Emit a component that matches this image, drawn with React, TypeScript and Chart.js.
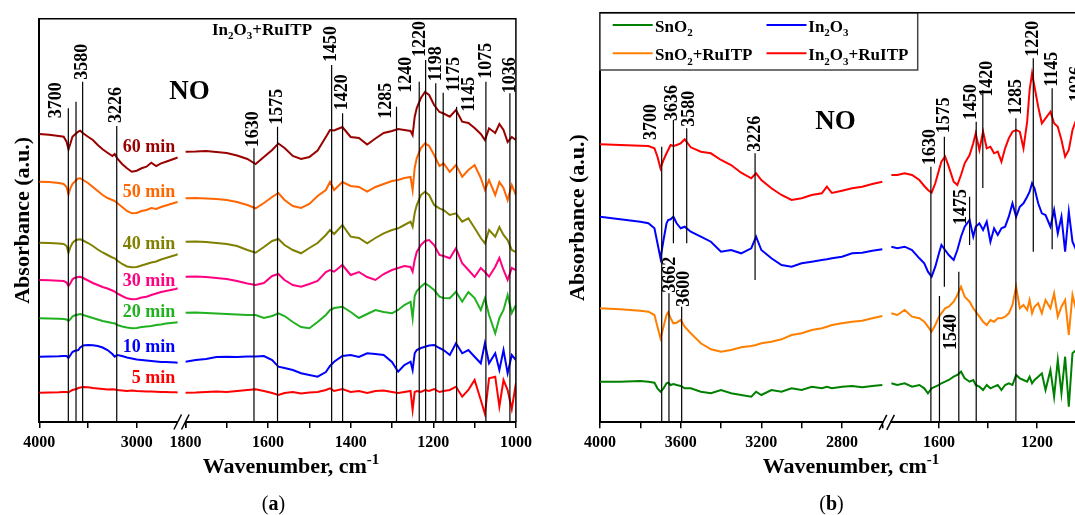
import React, { useEffect, useRef } from 'react';
import { Chart, registerables } from 'chart.js';

Chart.register(...registerables);

const FONT = "'Liberation Serif', 'Times New Roman', serif";

// ================= Panel (a): In2O3+RuITP under NO, time series =================
const A_TITLE = 'In₂O₃+RuITP';
const A_GAS = 'NO';
const A_WN_HI = [4000, 3900, 3800, 3750, 3720, 3700, 3680, 3660, 3640, 3620, 3600, 3580, 3550, 3500, 3450, 3400, 3350, 3300, 3250, 3226, 3200, 3150, 3100, 3050, 3000, 2950, 2900, 2850, 2800, 2750, 2700, 2650, 2600, 2580];
const A_WN_LO = [1800, 1775, 1750, 1725, 1700, 1675, 1650, 1630, 1610, 1590, 1575, 1560, 1540, 1520, 1500, 1480, 1460, 1450, 1440, 1420, 1400, 1380, 1360, 1340, 1320, 1300, 1285, 1270, 1255, 1250, 1245, 1240, 1230, 1220, 1210, 1198, 1185, 1175, 1160, 1145, 1130, 1115, 1100, 1085, 1075, 1065, 1050, 1040, 1030, 1020, 1010, 1000];
const A_NAMES = ['60 min', '50 min', '40 min', '30 min', '20 min', '10 min', '5 min'];
const A_COLORS = ['#990000', '#FF6600', '#808000', '#FF0080', '#20B020', '#0000FF', '#FF0000'];

const A_60_HI = [2.88, 2.873, 2.86, 2.853, 2.803, 2.727, 2.787, 2.853, 2.87, 2.887, 2.903, 2.913, 2.887, 2.853, 2.82, 2.77, 2.727, 2.693, 2.66, 2.68, 2.637, 2.58, 2.537, 2.503, 2.513, 2.537, 2.553, 2.593, 2.56, 2.587, 2.603, 2.62, 2.637, 2.647];
const A_50_HI = [2.403, 2.4, 2.39, 2.38, 2.35, 2.277, 2.34, 2.38, 2.4, 2.42, 2.435, 2.437, 2.42, 2.39, 2.35, 2.31, 2.27, 2.24, 2.22, 2.21, 2.19, 2.15, 2.11, 2.087, 2.09, 2.11, 2.12, 2.14, 2.13, 2.15, 2.165, 2.18, 2.195, 2.2];
const A_40_HI = [1.793, 1.79, 1.785, 1.78, 1.76, 1.693, 1.75, 1.79, 1.81, 1.82, 1.825, 1.827, 1.815, 1.79, 1.76, 1.725, 1.695, 1.67, 1.645, 1.637, 1.615, 1.58, 1.555, 1.547, 1.55, 1.565, 1.58, 1.595, 1.605, 1.625, 1.64, 1.655, 1.67, 1.677];
const A_30_HI = [1.42, 1.417, 1.413, 1.41, 1.395, 1.36, 1.39, 1.425, 1.44, 1.445, 1.45, 1.453, 1.44, 1.415, 1.39, 1.37, 1.35, 1.335, 1.315, 1.303, 1.285, 1.26, 1.237, 1.227, 1.23, 1.245, 1.253, 1.27, 1.285, 1.3, 1.31, 1.32, 1.33, 1.337];
const A_20_HI = [1.037, 1.035, 1.033, 1.03, 1.025, 1.01, 1.03, 1.055, 1.065, 1.07, 1.075, 1.08, 1.07, 1.055, 1.04, 1.025, 1.01, 1.0, 0.99, 0.987, 0.97, 0.955, 0.945, 0.937, 0.94, 0.95, 0.955, 0.96, 0.97, 0.975, 0.985, 0.99, 0.995, 0.997];
const A_10_HI = [0.653, 0.655, 0.657, 0.66, 0.66, 0.64, 0.67, 0.7, 0.71, 0.715, 0.72, 0.745, 0.765, 0.77, 0.767, 0.76, 0.745, 0.72, 0.68, 0.653, 0.67, 0.66, 0.645, 0.635, 0.625, 0.62, 0.615, 0.61, 0.605, 0.6, 0.6, 0.597, 0.595, 0.593];
const A_5_HI = [0.293, 0.295, 0.297, 0.3, 0.3, 0.295, 0.31, 0.32, 0.325, 0.33, 0.34, 0.345, 0.35, 0.348, 0.34, 0.335, 0.33, 0.325, 0.328, 0.325, 0.32, 0.315, 0.31, 0.315, 0.31, 0.308, 0.305, 0.305, 0.302, 0.3, 0.3, 0.298, 0.297, 0.295];

const A_60_LO = [2.703, 2.705, 2.71, 2.7, 2.69, 2.665, 2.63, 2.58, 2.65, 2.72, 2.785, 2.74, 2.66, 2.63, 2.65, 2.715, 2.85, 2.92, 2.915, 2.95, 2.85, 2.84, 2.775, 2.835, 2.89, 2.91, 2.93, 2.92, 2.91, 2.87, 3.05, 3.14, 3.24, 3.3, 3.27, 3.17, 3.1, 3.085, 3.053, 3.12, 3.003, 2.99, 2.94, 2.88, 2.82, 2.937, 2.89, 2.98, 2.92, 2.8, 2.85, 2.82];
const A_50_LO = [2.237, 2.24, 2.235, 2.23, 2.22, 2.2, 2.17, 2.137, 2.19, 2.25, 2.29, 2.22, 2.16, 2.14, 2.18, 2.26, 2.32, 2.4, 2.32, 2.4, 2.36, 2.35, 2.303, 2.35, 2.38, 2.41, 2.42, 2.44, 2.45, 2.32, 2.54, 2.64, 2.74, 2.787, 2.76, 2.67, 2.56, 2.587, 2.5, 2.57, 2.453, 2.52, 2.57, 2.44, 2.32, 2.42, 2.27, 2.4, 2.34, 2.22, 2.37, 2.27];
const A_40_LO = [1.803, 1.805, 1.8, 1.79, 1.78, 1.76, 1.72, 1.693, 1.75, 1.81, 1.83, 1.77, 1.72, 1.687, 1.74, 1.79, 1.87, 1.92, 1.88, 1.97, 1.853, 1.84, 1.787, 1.84, 1.887, 1.92, 1.937, 1.97, 2.003, 1.953, 2.09, 2.17, 2.27, 2.303, 2.27, 2.17, 2.137, 2.12, 2.07, 2.087, 2.003, 2.037, 1.94, 1.84, 1.787, 1.92, 1.853, 1.95, 1.87, 1.82, 1.72, 1.7];
const A_30_LO = [1.453, 1.455, 1.45, 1.44, 1.43, 1.41, 1.385, 1.37, 1.39, 1.46, 1.48, 1.42, 1.37, 1.353, 1.38, 1.41, 1.5, 1.52, 1.503, 1.57, 1.47, 1.5, 1.45, 1.42, 1.48, 1.52, 1.54, 1.56, 1.55, 1.503, 1.62, 1.7, 1.77, 1.81, 1.82, 1.77, 1.67, 1.66, 1.637, 1.737, 1.587, 1.52, 1.45, 1.54, 1.5, 1.453, 1.553, 1.64, 1.52, 1.42, 1.54, 1.52];
const A_20_LO = [1.093, 1.095, 1.09, 1.085, 1.08, 1.075, 1.07, 1.07, 1.04, 1.06, 1.087, 1.06, 1.0, 0.95, 0.937, 1.0, 1.07, 1.12, 1.14, 1.153, 1.1, 1.04, 1.08, 1.12, 1.1, 1.087, 1.12, 1.17, 1.203, 1.037, 1.26, 1.31, 1.353, 1.387, 1.36, 1.32, 1.253, 1.24, 1.237, 1.303, 1.203, 1.3, 1.24, 1.12, 1.237, 1.07, 0.887, 1.04, 1.12, 1.27, 1.09, 1.17];
const A_10_LO = [0.603, 0.62, 0.63, 0.65, 0.653, 0.65, 0.655, 0.655, 0.66, 0.62, 0.553, 0.54, 0.52, 0.487, 0.47, 0.453, 0.5, 0.56, 0.603, 0.66, 0.67, 0.65, 0.687, 0.68, 0.67, 0.6, 0.503, 0.57, 0.603, 0.52, 0.687, 0.72, 0.74, 0.753, 0.765, 0.77, 0.74, 0.72, 0.67, 0.787, 0.687, 0.72, 0.653, 0.587, 0.787, 0.587, 0.687, 0.52, 0.72, 0.487, 0.67, 0.62];
const A_5_LO = [0.293, 0.295, 0.3, 0.305, 0.3, 0.31, 0.32, 0.327, 0.31, 0.29, 0.27, 0.29, 0.3, 0.285, 0.295, 0.3, 0.32, 0.337, 0.31, 0.33, 0.3, 0.31, 0.29, 0.31, 0.315, 0.3, 0.29, 0.3, 0.31, 0.12, 0.3, 0.31, 0.3, 0.32, 0.31, 0.33, 0.3, 0.31, 0.32, 0.353, 0.253, 0.32, 0.42, 0.22, 0.08, 0.437, 0.453, 0.153, 0.42, 0.32, 0.13, 0.387];

const A_HI = [A_60_HI, A_50_HI, A_40_HI, A_30_HI, A_20_HI, A_10_HI, A_5_HI];
const A_LO = [A_60_LO, A_50_LO, A_40_LO, A_30_LO, A_20_LO, A_10_LO, A_5_LO];
const A_NAME_Y = [2.703, 2.253, 1.727, 1.36, 1.047, 0.703, 0.387];

// band markers of panel (a)
const A_MARK_POS = [3702, 3623, 3555, 3205, 1634, 1577, 1446, 1419.5, 1289, 1234, 1218.5, 1194, 1176, 1143.5, 1072.6, 1014.5];
const A_MARK_TOP = [3.137, 3.203, 3.403, 2.96, 2.737, 2.953, 3.57, 3.087, 3.153, 3.403, 3.62, 3.387, 3.293, 3.153, 3.403, 3.287];
const A_MARK_BOTTOM = A_MARK_POS.map(() => 0);
const A_MARK_TEXT = ['3700', '', '3580', '3226', '1630', '1575', '1450', '1420', '1285', '1240', '1220', '1198', '1175', '1145', '1075', '1036'];
const A_MARK_DX = [-12, 0, 0, 0, -1, 0, 0, 0, -10, -12.6, -5, 1, 10.7, 12.6, 0, 0.7];
const A_MARK_DY = [10, 0, -2, -3, -1, -2, -3, -3, 12, 11, -3, -2, -1, 5, -3, 0];

// ================= Panel (b): four samples under NO =================
const B_GAS = 'NO';
const B_WN_HI = [4000, 3900, 3800, 3760, 3730, 3715, 3700, 3685, 3670, 3662, 3650, 3636, 3620, 3600, 3580, 3550, 3500, 3450, 3400, 3350, 3300, 3250, 3226, 3200, 3150, 3100, 3050, 3000, 2950, 2900, 2875, 2850, 2800, 2750, 2700, 2650, 2600];
const B_WN_LO = [1795, 1770, 1740, 1710, 1680, 1660, 1645, 1630, 1615, 1600, 1590, 1575, 1560, 1540, 1525, 1510, 1495, 1475, 1460, 1450, 1435, 1420, 1405, 1390, 1375, 1360, 1345, 1330, 1315, 1300, 1285, 1270, 1255, 1240, 1230, 1220, 1210, 1195, 1180, 1165, 1145, 1130, 1115, 1100, 1085, 1070, 1055, 1040, 1020, 1000];
const B_NAMES = ['SnO₂', 'In₂O₃', 'SnO₂+RuITP', 'In₂O₃+RuITP'];
const B_COLORS = ['#008000', '#0000FF', '#FF8000', '#FF0000'];

const B_SN_HI = [0.406, 0.406, 0.413, 0.406, 0.396, 0.34, 0.306, 0.34, 0.39, 0.396, 0.373, 0.383, 0.373, 0.363, 0.34, 0.34, 0.306, 0.29, 0.323, 0.29, 0.273, 0.256, 0.306, 0.273, 0.323, 0.306, 0.34, 0.323, 0.356, 0.34, 0.356, 0.34, 0.356, 0.363, 0.35, 0.363, 0.373];
const B_IN_HI = [2.056, 2.03, 2.006, 1.99, 1.94, 1.79, 1.64, 1.823, 1.99, 2.023, 2.03, 2.056, 1.99, 1.94, 1.956, 1.906, 1.856, 1.806, 1.706, 1.723, 1.69, 1.74, 1.856, 1.723, 1.64, 1.573, 1.556, 1.59, 1.606, 1.623, 1.63, 1.64, 1.656, 1.69, 1.696, 1.716, 1.73];
const B_SNRU_HI = [1.14, 1.13, 1.116, 1.106, 1.073, 0.956, 0.84, 0.956, 1.073, 1.1, 1.04, 0.99, 0.996, 1.023, 0.956, 0.89, 0.79, 0.73, 0.706, 0.723, 0.75, 0.763, 0.773, 0.79, 0.806, 0.83, 0.873, 0.89, 0.923, 0.94, 0.956, 0.973, 0.99, 1.006, 1.016, 1.04, 1.063];
const B_INRU_HI = [2.78, 2.773, 2.766, 2.763, 2.74, 2.656, 2.54, 2.623, 2.69, 2.723, 2.773, 2.763, 2.773, 2.79, 2.83, 2.75, 2.706, 2.69, 2.623, 2.573, 2.496, 2.44, 2.49, 2.423, 2.34, 2.273, 2.223, 2.24, 2.273, 2.29, 2.356, 2.293, 2.316, 2.34, 2.356, 2.383, 2.406];

const B_SN_LO = [0.39, 0.373, 0.39, 0.356, 0.373, 0.34, 0.29, 0.34, 0.356, 0.373, 0.39, 0.406, 0.423, 0.456, 0.473, 0.506, 0.44, 0.406, 0.423, 0.373, 0.356, 0.323, 0.373, 0.34, 0.356, 0.373, 0.323, 0.373, 0.39, 0.373, 0.473, 0.44, 0.423, 0.406, 0.456, 0.39, 0.423, 0.456, 0.49, 0.323, 0.523, 0.256, 0.623, 0.29, 0.656, 0.156, 0.69, 0.723, 0.523, 0.623];
const B_IN_LO = [1.756, 1.74, 1.756, 1.723, 1.64, 1.59, 1.506, 1.456, 1.556, 1.69, 1.773, 1.723, 1.673, 1.623, 1.723, 1.856, 1.956, 2.023, 1.856, 1.956, 1.99, 1.923, 2.006, 1.806, 1.94, 1.873, 1.94, 1.956, 2.056, 2.19, 2.056, 2.156, 2.19, 2.256, 2.306, 2.39, 2.34, 2.19, 2.09, 2.073, 1.956, 2.123, 1.89, 2.056, 1.706, 2.106, 1.806, 1.723, 1.823, 1.773];
const B_SNRU_LO = [1.09, 1.073, 1.123, 1.056, 1.04, 1.006, 0.956, 0.906, 0.973, 1.056, 1.09, 1.14, 1.156, 1.206, 1.273, 1.356, 1.256, 1.206, 1.14, 1.106, 1.056, 1.006, 0.973, 1.023, 1.006, 1.04, 1.04, 1.056, 1.09, 1.173, 1.356, 1.14, 1.173, 1.123, 1.223, 1.09, 1.156, 1.19, 1.09, 1.223, 1.14, 1.29, 1.056, 1.156, 1.223, 0.873, 1.273, 1.123, 1.173, 1.123];
const B_INRU_LO = [2.473, 2.473, 2.49, 2.473, 2.423, 2.363, 2.323, 2.296, 2.39, 2.523, 2.606, 2.656, 2.556, 2.406, 2.373, 2.473, 2.59, 2.673, 2.79, 2.89, 2.723, 2.906, 2.74, 2.756, 2.69, 2.706, 2.606, 2.74, 2.84, 2.906, 2.923, 2.906, 2.74, 3.006, 3.323, 3.49, 3.356, 3.156, 2.99, 3.04, 3.106, 2.99, 2.956, 2.823, 2.656, 2.723, 2.923, 3.023, 3.073, 3.043];

const B_HI = [B_SN_HI, B_IN_HI, B_SNRU_HI, B_INRU_HI];
const B_LO = [B_SN_LO, B_IN_LO, B_SNRU_LO, B_INRU_LO];

// band markers of panel (b)
const B_MARK_POS = [3694, 3636, 3570, 3231, 3658, 3595, 1633, 1598, 1578, 1519, 1475, 1448, 1421, 1286, 1215, 1138, 1036];
const B_MARK_TOP = [2.756, 3.023, 2.94, 2.69, 1.29, 1.156, 2.556, 1.263, 2.856, 1.506, 2.256, 3.006, 3.323, 3.04, 3.64, 3.34, 3.173];
const B_MARK_BOTTOM = [0, 1.79, 1.79, 1.423, 0, 0, 0, 0, 1.356, 0, 1.773, 0, 2.343, 0, 1.706, 1.73, 1.723];
const B_MARK_TEXT = ['3700', '3636', '3580', '3226', '3662', '3600', '1630', '', '1575', '1540', '1475', '1450', '1420', '1285', '1220', '1145', '1036'];
const B_MARK_DX = [-10, -1, 2.5, 0, 1, 3, -1, 0, 0, -7.6, -8.3, -5, 5, 0, 0, 0, 0];
const B_MARK_DY = [-6.7, 1, -1.6, -1.6, -0.6, 0, -1.7, 0, -3.4, 78.3, 28.3, -1.7, 6.7, -3.3, -1.6, -1.6, -3];

const X_TITLE = 'Wavenumber, cm⁻¹';
const Y_TITLE = 'Absorbance (a.u.)';

// ================= helpers =================
const SUB: Record<string, string> = { '₀': '0', '₁': '1', '₂': '2', '₃': '3', '₄': '4', '₅': '5', '₆': '6', '₇': '7', '₈': '8', '₉': '9' };
const SUP: Record<string, string> = { '⁻': '-', '¹': '1', '²': '2', '³': '3', '⁰': '0' };

function drawRich(ctx: any, text: string, x: number, y: number, size: number, align: string, color = '#000') {
  const parts: any[] = [];
  for (const ch of text) {
    const kind = SUB[ch] ? 'sub' : SUP[ch] ? 'sup' : 'n';
    const c = SUB[ch] || SUP[ch] || ch;
    const last = parts[parts.length - 1];
    if (last && last.kind === kind) last.t += c;
    else parts.push({ kind, t: c });
  }
  const fontFor = (k: string) => `bold ${k === 'n' ? size : Math.round(size * 0.66)}px ${FONT}`;
  let w = 0;
  for (const p of parts) {
    ctx.font = fontFor(p.kind);
    p.w = ctx.measureText(p.t).width;
    w += p.w;
  }
  let cx = align === 'center' ? x - w / 2 : align === 'right' ? x - w : x;
  ctx.save();
  ctx.fillStyle = color;
  ctx.textAlign = 'left';
  ctx.textBaseline = 'alphabetic';
  for (const p of parts) {
    ctx.font = fontFor(p.kind);
    const dy = p.kind === 'sub' ? size * 0.27 : p.kind === 'sup' ? -size * 0.42 : 0;
    ctx.fillText(p.t, cx, y + dy);
    cx += p.w;
  }
  ctx.restore();
}

function drawCaption(ctx: any, letter: string, cx: number, base: number) {
  ctx.save();
  const reg = `20px ${FONT}`;
  const bold = `bold 20px ${FONT}`;
  ctx.font = reg;
  const wp = ctx.measureText('(').width;
  ctx.font = bold;
  const wl = ctx.measureText(letter).width;
  let x = cx - (2 * wp + wl) / 2;
  ctx.fillStyle = '#000';
  ctx.textAlign = 'left';
  ctx.textBaseline = 'alphabetic';
  ctx.font = reg; ctx.fillText('(', x, base); x += wp;
  ctx.font = bold; ctx.fillText(letter, x, base); x += wl;
  ctx.font = reg; ctx.fillText(')', x, base);
  ctx.restore();
}

function drawBreak(ctx: any, cx: number, ay: number) {
  ctx.save();
  ctx.fillStyle = '#fff';
  ctx.fillRect(cx - 3.5, ay - 2.5, 7, 5);
  ctx.strokeStyle = '#000';
  ctx.lineWidth = 1.5;
  for (const off of [-3.8, 3.8]) {
    ctx.beginPath();
    ctx.moveTo(cx + off - 3.8, ay + 7.5);
    ctx.lineTo(cx + off + 3.8, ay - 7.5);
    ctx.stroke();
  }
  ctx.restore();
}

function drawMarkLabels(chart: any, pos: number[], top: number[], text: string[], dx: number[], dy: number[]) {
  const { ctx, scales } = chart;
  ctx.save();
  ctx.font = `bold 18px ${FONT}`;
  ctx.fillStyle = '#000';
  ctx.textAlign = 'left';
  ctx.textBaseline = 'middle';
  pos.forEach((p, i) => {
    if (!text[i]) return;
    const sx = p > 2000 ? scales.x1 : scales.x2;
    const px = sx.getPixelForValue(p) + dx[i];
    const py = scales.y.getPixelForValue(top[i]) + dy[i];
    ctx.save();
    ctx.translate(px, py);
    ctx.rotate(-Math.PI / 2);
    ctx.fillText(text[i], 0, 0);
    ctx.restore();
  });
  ctx.restore();
}

function drawFrame(ctx: any, ca: any) {
  ctx.save();
  ctx.strokeStyle = '#000';
  ctx.lineWidth = 1.5;
  ctx.beginPath();
  ctx.moveTo(ca.left, ca.top);
  ctx.lineTo(ca.right, ca.top);
  ctx.lineTo(ca.right, ca.bottom);
  ctx.stroke();
  ctx.restore();
}

function spectrumDatasets(names: string[], colors: string[], hi: number[][], lo: number[][], wnHi: number[], wnLo: number[]) {
  const ds: any[] = [];
  names.forEach((name, i) => {
    const common = { label: name, yAxisID: 'y', borderColor: colors[i], backgroundColor: colors[i], borderWidth: 2, pointRadius: 0, fill: false, tension: 0, order: 1 };
    ds.push({ ...common, xAxisID: 'x1', data: wnHi.map((w, k) => ({ x: w, y: hi[i][k] })) });
    ds.push({ ...common, xAxisID: 'x2', data: wnLo.map((w, k) => ({ x: w, y: lo[i][k] })) });
  });
  return ds;
}

function markDatasets(pos: number[], top: number[], bottom: number[]) {
  return pos.map((p, i) => ({
    label: 'band',
    xAxisID: p > 2000 ? 'x1' : 'x2',
    yAxisID: 'y',
    data: [{ x: p, y: bottom[i] }, { x: p, y: top[i] }],
    borderColor: '#000',
    borderWidth: 1.2,
    pointRadius: 0,
    fill: false,
    order: 0,
  }));
}

function xScale(min: number, max: number, step: number, labelEvery: number, weight: number) {
  return {
    type: 'linear',
    position: 'bottom',
    stack: 'wn',
    stackWeight: weight,
    reverse: true,
    min,
    max,
    ticks: {
      stepSize: step,
      autoSkip: false,
      maxRotation: 0,
      minRotation: 0,
      includeBounds: false,
      padding: 5,
      color: '#000',
      font: { family: FONT, size: 16, weight: 'bold' },
      callback: (v: number) => (Math.abs(v / labelEvery - Math.round(v / labelEvery)) < 1e-6 ? String(Math.round(v)) : ''),
    },
    grid: { display: true, drawOnChartArea: false, drawTicks: true, tickLength: 6, color: '#000', lineWidth: 1.5 },
    border: { display: true, color: '#000', width: 2 },
    afterFit: (s: any) => { s.height = 40; },
  };
}

function yScale(max: number, width: number, titlePad: number) {
  return {
    type: 'linear',
    position: 'left',
    min: 0,
    max,
    ticks: { display: false },
    grid: { display: false },
    border: { display: true, color: '#000', width: 2 },
    title: { display: true, text: Y_TITLE, color: '#000', font: { family: FONT, size: 22, weight: 'bold' }, padding: { top: titlePad, bottom: 0 } },
    afterFit: (s: any) => { s.width = width; },
  };
}

const panelAPlugin = {
  id: 'panelADecor',
  afterDraw(chart: any) {
    const { ctx, chartArea: ca, scales } = chart;
    drawFrame(ctx, ca);
    const bx = (scales.x1.getPixelForValue(A_WN_HI[A_WN_HI.length - 1]) + scales.x2.getPixelForValue(A_WN_LO[0])) / 2;
    drawBreak(ctx, bx, ca.bottom);
    drawMarkLabels(chart, A_MARK_POS, A_MARK_TOP, A_MARK_TEXT, A_MARK_DX, A_MARK_DY);
    const nx = scales.x1.getPixelForValue(2605);
    A_NAMES.forEach((n, i) => drawRich(ctx, n, nx, scales.y.getPixelForValue(A_NAME_Y[i]), 18, 'right', A_COLORS[i]));
    drawRich(ctx, A_TITLE, 262, 34.7, 17, 'center');
    drawRich(ctx, A_GAS, 189.5, 99.3, 27, 'center');
    drawRich(ctx, X_TITLE, 291, 473, 22, 'center');
    drawCaption(ctx, 'a', 273.5, 510);
  },
};

const panelBPlugin = {
  id: 'panelBDecor',
  afterDraw(chart: any) {
    const { ctx, chartArea: ca, scales } = chart;
    // legend box
    ctx.save();
    ctx.fillStyle = '#fff';
    ctx.fillRect(ca.left, ca.top, 377.7 - ca.left, 70 - ca.top);
    ctx.strokeStyle = '#444';
    ctx.lineWidth = 1.5;
    ctx.strokeRect(ca.left, ca.top, 377.7 - ca.left, 70 - ca.top);
    const colX = [72.7, 226.5];
    const textX = [115, 268.3];
    const rowY = [25, 53.3];
    const rowBase = [31.7, 60];
    B_NAMES.forEach((n, i) => {
      const c = i % 2;
      const r = Math.floor(i / 2);
      ctx.strokeStyle = B_COLORS[i];
      ctx.lineWidth = 2;
      ctx.beginPath();
      ctx.moveTo(colX[c], rowY[r]);
      ctx.lineTo(colX[c] + 40, rowY[r]);
      ctx.stroke();
      drawRich(ctx, n, textX[c], rowBase[r], 17, 'left');
    });
    ctx.restore();
    drawFrame(ctx, ca);
    const bx = (scales.x1.getPixelForValue(B_WN_HI[B_WN_HI.length - 1]) + scales.x2.getPixelForValue(B_WN_LO[0])) / 2;
    drawBreak(ctx, bx, ca.bottom);
    drawMarkLabels(chart, B_MARK_POS, B_MARK_TOP, B_MARK_TEXT, B_MARK_DX, B_MARK_DY);
    drawRich(ctx, B_GAS, 295.5, 129.3, 27, 'center');
    drawRich(ctx, X_TITLE, 311, 473, 22, 'center');
    drawCaption(ctx, 'b', 291.5, 510);
  },
};

function configA(): any {
  return {
    type: 'line',
    data: {
      datasets: [
        ...markDatasets(A_MARK_POS, A_MARK_TOP, A_MARK_BOTTOM),
        ...spectrumDatasets(A_NAMES, A_COLORS, A_HI, A_LO, A_WN_HI, A_WN_LO),
      ],
    },
    options: {
      animation: false,
      responsive: false,
      events: [],
      layout: { padding: { left: 0, right: 24.1, top: 18.7, bottom: 53 } },
      plugins: { legend: { display: false }, tooltip: { enabled: false } },
      scales: {
        x1: xScale(2500, 4000, 500, 1000, 146.1),
        x2: xScale(1000, 1800, 100, 200, 330.5),
        y: yScale(4.033, 39.3, 9.8),
      },
    },
    plugins: [panelAPlugin],
  };
}

function configB(): any {
  return {
    type: 'line',
    data: {
      datasets: [
        ...markDatasets(B_MARK_POS, B_MARK_TOP, B_MARK_BOTTOM),
        ...spectrumDatasets(B_NAMES, B_COLORS, B_HI, B_LO, B_WN_HI, B_WN_LO),
      ],
    },
    options: {
      animation: false,
      responsive: false,
      events: [],
      layout: { padding: { left: 0, right: 1.8, top: 12.7, bottom: 52.7 } },
      plugins: { legend: { display: false }, tooltip: { enabled: false } },
      scales: {
        x1: xScale(2556, 4000, 200, 400, 291.2),
        x2: xScale(950, 1795, 200, 400, 207.0),
        y: yScale(4.096, 60, 24.8),
      },
    },
    plugins: [panelBPlugin],
  };
}

export default function App() {
  const refA = useRef<HTMLCanvasElement>(null);
  const refB = useRef<HTMLCanvasElement>(null);
  useEffect(() => {
    const a = new Chart(refA.current as HTMLCanvasElement, configA());
    const b = new Chart(refB.current as HTMLCanvasElement, configB());
    return () => {
      a.destroy();
      b.destroy();
    };
  }, []);
  return (
    <div style={{ position: 'fixed', left: 0, top: 0, width: 1075, height: 515, overflow: 'hidden', background: '#fff' }}>
      <canvas ref={refA} width={540} height={515} style={{ position: 'absolute', left: 0, top: 0, width: 540, height: 515 }} />
      <canvas ref={refB} width={560} height={515} style={{ position: 'absolute', left: 540, top: 0, width: 560, height: 515 }} />
    </div>
  );
}
